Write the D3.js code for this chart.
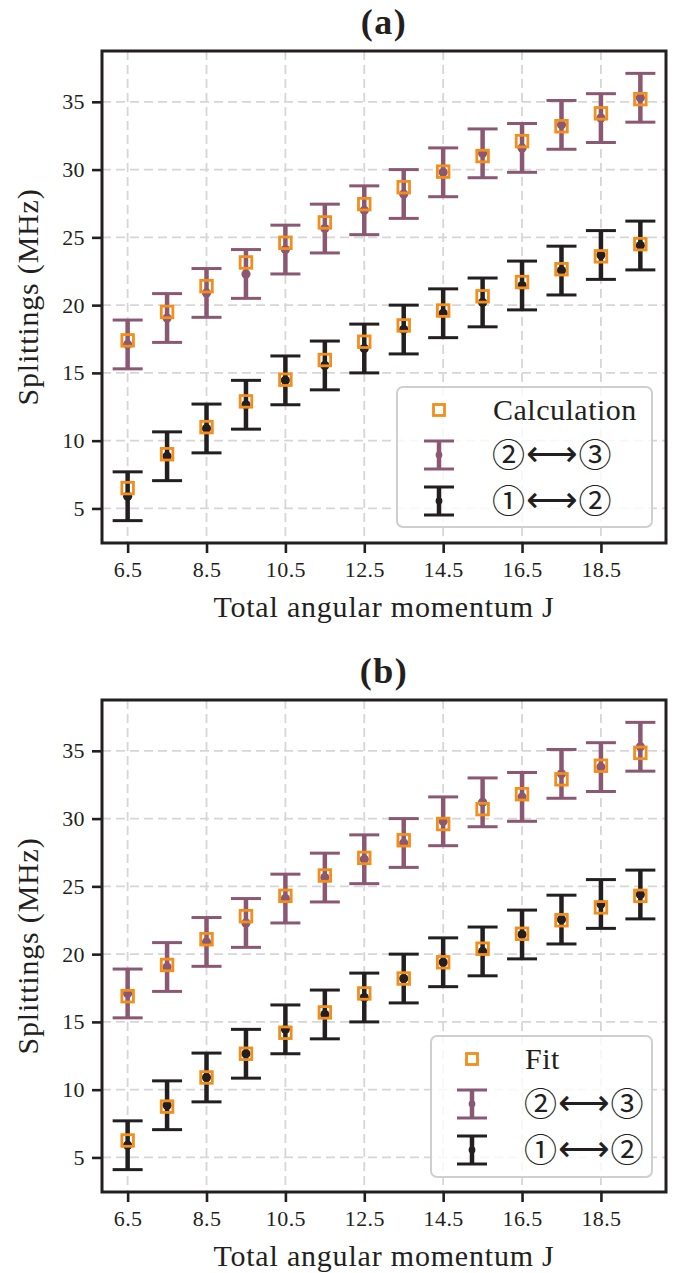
<!DOCTYPE html>
<html>
<head>
<meta charset="utf-8">
<script src="https://cdn.jsdelivr.net/npm/d3@7"></script>
<style>
  html, body { margin: 0; padding: 0; background: #ffffff; }
  svg { display: block; }
</style>
</head>
<body>
<div id="chart"></div>
<script>
// ============ Data ============
const J = [6.5, 7.5, 8.5, 9.5, 10.5, 11.5, 12.5, 13.5, 14.5, 15.5, 16.5, 17.5, 18.5, 19.5];

// measured splittings (same in both panels)
const meas23 = [17.1, 19.05, 20.9, 22.3, 24.1, 25.65, 27.0, 28.2, 29.8, 31.2, 31.6, 33.3, 33.8, 35.3];
const err23  = [1.8, 1.8, 1.8, 1.8, 1.8, 1.8, 1.8, 1.8, 1.8, 1.8, 1.8, 1.8, 1.8, 1.8];
const meas12 = [5.9, 8.85, 10.9, 12.65, 14.45, 15.55, 16.8, 18.2, 19.4, 20.2, 21.45, 22.55, 23.7, 24.4];
const err12  = [1.8, 1.8, 1.8, 1.8, 1.8, 1.8, 1.8, 1.8, 1.8, 1.8, 1.8, 1.8, 1.8, 1.8];

// panel (a): calculation
const calc23 = [17.4, 19.5, 21.4, 23.15, 24.6, 26.1, 27.45, 28.7, 29.85, 31.0, 32.1, 33.2, 34.15, 35.2];
const calc12 = [6.5, 9.0, 11.0, 12.9, 14.5, 15.95, 17.3, 18.5, 19.6, 20.65, 21.7, 22.65, 23.6, 24.5];

// panel (b): fit
const fit23 = [16.9, 19.2, 21.1, 22.8, 24.3, 25.8, 27.1, 28.4, 29.6, 30.7, 31.8, 32.9, 33.9, 34.85];
const fit12 = [6.25, 8.75, 10.9, 12.65, 14.2, 15.7, 17.1, 18.2, 19.4, 20.4, 21.5, 22.5, 23.45, 24.3];

const xTicks = [6.5, 8.5, 10.5, 12.5, 14.5, 16.5, 18.5];
const yTicks = [5, 10, 15, 20, 25, 30, 35];

// ============ Styles ============
const ORANGE = '#f28e1c';
const PURPLE = '#8b5874';
const BLACK  = '#231f20';
const FONT   = "'Liberation Serif', 'DejaVu Serif', serif";

const W = 677, H = 1273;
const left = 102, right = 666;

const svg = d3.select('#chart').append('svg')
  .attr('width', W).attr('height', H)
  .attr('viewBox', `0 0 ${W} ${H}`);

// shared scales (matplotlib style 5% margins)
const x = d3.scaleLinear()
  .domain([d3.min(J) - 0.05 * (d3.max(J) - d3.min(J)), d3.max(J) + 0.05 * (d3.max(J) - d3.min(J))])
  .range([left, right]);

const lo = d3.min(meas12.map((v, i) => v - err12[i]));
const hi = d3.max(meas23.map((v, i) => v + err23[i]));
const yDomain = [lo - 0.05 * (hi - lo), hi + 0.05 * (hi - lo)];

function drawPanel(cfg) {
  const top = cfg.top, bottom = cfg.top + 492;
  const y = d3.scaleLinear().domain(yDomain).range([bottom, top]);
  const g = svg.append('g');

  // ── Title ──
  g.append('text')
    .attr('x', (left + right) / 2).attr('y', top - 17)
    .attr('text-anchor', 'middle')
    .attr('font-family', FONT).attr('font-weight', 'bold').attr('font-size', 36)
    .attr('letter-spacing', 1.5)
    .attr('fill', BLACK)
    .text(cfg.title);

  // ── Grid ──
  const grid = g.append('g')
    .attr('stroke', '#d6d6d6').attr('stroke-width', 1.8).attr('stroke-dasharray', '9,5');
  grid.selectAll('.gx').data(xTicks).enter().append('line')
    .attr('x1', d => x(d)).attr('x2', d => x(d))
    .attr('y1', top).attr('y2', bottom);
  grid.selectAll('.gy').data(yTicks).enter().append('line')
    .attr('x1', left).attr('x2', right)
    .attr('y1', d => y(d)).attr('y2', d => y(d));

  // ── Error bars ──
  function errorbars(vals, errs, color) {
    const eg = g.append('g').attr('stroke', color);
    const rows = J.map((j, i) => ({ j, v: vals[i], e: errs[i] }));
    eg.selectAll('.bar').data(rows).enter().append('line')
      .attr('stroke-width', 4.5)
      .attr('x1', d => x(d.j)).attr('x2', d => x(d.j))
      .attr('y1', d => y(d.v - d.e)).attr('y2', d => y(d.v + d.e));
    eg.selectAll('.capt').data(rows).enter().append('line')
      .attr('stroke-width', 3)
      .attr('x1', d => x(d.j) - 15).attr('x2', d => x(d.j) + 15)
      .attr('y1', d => y(d.v + d.e)).attr('y2', d => y(d.v + d.e));
    eg.selectAll('.capb').data(rows).enter().append('line')
      .attr('stroke-width', 3)
      .attr('x1', d => x(d.j) - 15).attr('x2', d => x(d.j) + 15)
      .attr('y1', d => y(d.v - d.e)).attr('y2', d => y(d.v - d.e));
    eg.selectAll('circle').data(rows).enter().append('circle')
      .attr('stroke', 'none').attr('fill', color)
      .attr('cx', d => x(d.j)).attr('cy', d => y(d.v)).attr('r', 4.6);
  }
  errorbars(meas23, err23, PURPLE);
  errorbars(meas12, err12, BLACK);

  // ── Squares (calculation / fit) ──
  const sq = g.append('g')
    .attr('fill', 'none').attr('stroke', ORANGE).attr('stroke-width', 2.8);
  [cfg.s23, cfg.s12].forEach(series => {
    sq.selectAll(null).data(J.map((j, i) => ({ j, v: series[i] }))).enter().append('rect')
      .attr('x', d => x(d.j) - 5.8).attr('y', d => y(d.v) - 5.8)
      .attr('width', 11.6).attr('height', 11.6);
  });

  // ── Axes ──
  const xAxis = g.append('g')
    .attr('transform', `translate(0,${bottom})`)
    .call(d3.axisBottom(x).tickValues(xTicks).tickSize(10).tickPadding(8).tickFormat(d3.format('.1f')));
  const yAxis = g.append('g')
    .attr('transform', `translate(${left},0)`)
    .call(d3.axisLeft(y).tickValues(yTicks).tickSize(10).tickPadding(7));
  [xAxis, yAxis].forEach(a => {
    a.select('.domain').remove();
    a.selectAll('.tick line').attr('stroke', BLACK).attr('stroke-width', 2.6);
    a.selectAll('.tick text')
      .attr('font-family', FONT).attr('font-size', 22).attr('letter-spacing', 0.4).attr('fill', BLACK);
  });

  // frame
  g.append('rect')
    .attr('x', left).attr('y', top)
    .attr('width', right - left).attr('height', bottom - top)
    .attr('fill', 'none').attr('stroke', BLACK).attr('stroke-width', 3);

  // ── Axis labels ──
  g.append('text')
    .attr('x', (left + right) / 2).attr('y', bottom + 74)
    .attr('text-anchor', 'middle')
    .attr('font-family', FONT).attr('font-size', 30).attr('letter-spacing', 0.8).attr('fill', BLACK)
    .text('Total angular momentum J');
  g.append('text')
    .attr('transform', `translate(38,${(top + bottom) / 2}) rotate(-90)`)
    .attr('text-anchor', 'middle')
    .attr('font-family', FONT).attr('font-size', 30).attr('letter-spacing', 0.8).attr('fill', BLACK)
    .text('Splittings (MHz)');

  // ── Legend ──
  const L = cfg.legend;
  const lg = g.append('g');
  lg.append('rect')
    .attr('x', L.x).attr('y', L.y).attr('width', L.w).attr('height', L.h)
    .attr('rx', 6).attr('ry', 6)
    .attr('fill', 'rgba(255,255,255,0.8)').attr('stroke', '#cfcfcf').attr('stroke-width', 2);

  const hx = L.x + L.hx, tx = L.x + L.tx;
  const rowY = [L.y + 23, L.y + 68, L.y + 114];

  lg.append('rect')
    .attr('x', hx - 5.5).attr('y', rowY[0] - 5.5).attr('width', 11).attr('height', 11)
    .attr('fill', 'none').attr('stroke', ORANGE).attr('stroke-width', 2.8);

  [[PURPLE, rowY[1]], [BLACK, rowY[2]]].forEach(([c, cy]) => {
    const h = lg.append('g').attr('stroke', c);
    h.append('line').attr('x1', hx).attr('x2', hx).attr('y1', cy - 14).attr('y2', cy + 14).attr('stroke-width', 4.5);
    h.append('line').attr('x1', hx - 15).attr('x2', hx + 15).attr('y1', cy - 14).attr('y2', cy - 14).attr('stroke-width', 3);
    h.append('line').attr('x1', hx - 15).attr('x2', hx + 15).attr('y1', cy + 14).attr('y2', cy + 14).attr('stroke-width', 3);
    h.append('circle').attr('cx', hx).attr('cy', cy).attr('r', 3.4).attr('fill', c).attr('stroke', 'none');
  });

  lg.append('text')
    .attr('x', tx).attr('y', rowY[0] + 10)
    .attr('font-family', FONT).attr('font-size', 30).attr('letter-spacing', 0.5).attr('fill', BLACK)
    .text(cfg.label);

  [['②', '③', rowY[1]], ['①', '②', rowY[2]]].forEach(([a, b, cy]) => {
    const t = lg.append('text')
      .attr('x', tx - 1).attr('y', cy + 12)
      .attr('font-size', 33).attr('fill', BLACK);
    t.append('tspan').attr('font-family', "'Noto Sans CJK JP'").text(a);
    t.append('tspan').attr('font-family', "'DejaVu Sans'").attr('font-size', 36)
      .attr('dx', 1).attr('dy', -1).text('⟷');
    t.append('tspan').attr('font-family', "'Noto Sans CJK JP'").attr('dx', 1).attr('dy', 1).text(b);
  });
}

drawPanel({
  top: 51, title: '(a)', label: 'Calculation', s23: calc23, s12: calc12,
  legend: { x: 397, y: 387, w: 255, h: 140, hx: 42, tx: 96 }
});
drawPanel({
  top: 700, title: '(b)', label: 'Fit', s23: fit23, s12: fit12,
  legend: { x: 431, y: 1036, w: 221, h: 141, hx: 41, tx: 94 }
});
</script>
</body>
</html>
